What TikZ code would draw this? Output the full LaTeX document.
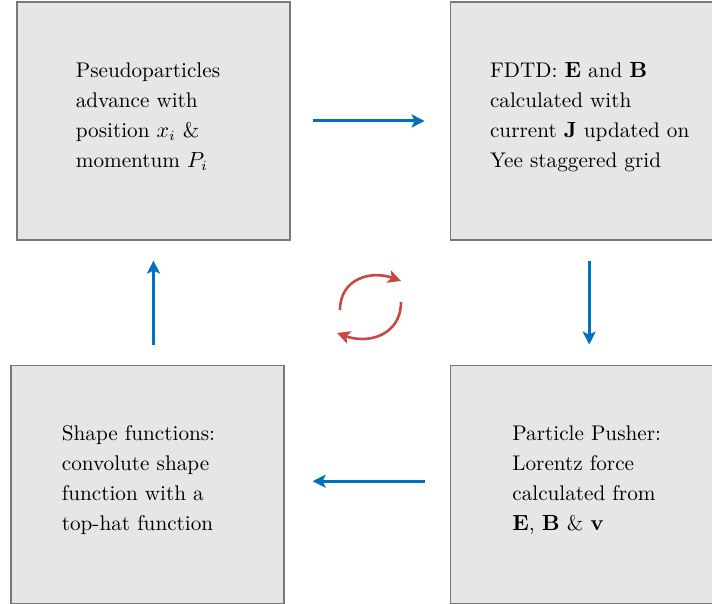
\documentclass[tikz,border=0pt]{standalone}
\usepackage{xcolor}
\usepackage{tikz}
\usetikzlibrary{arrows.meta,positioning,calc}

\definecolor{boxgray}{RGB}{230,230,230}
\definecolor{edgegray}{RGB}{120,120,120}
\definecolor{flowblue}{RGB}{0,114,189}
\definecolor{cycred}{RGB}{200,72,72}

\begin{document}
\begin{tikzpicture}[
    node distance=62pt and 79.5pt,
    blk/.style={draw=edgegray, fill=boxgray, line width=0.6pt, minimum width=136.5pt, minimum height=119pt, inner sep=0pt},
    txt/.style={align=left, font={\fontsize{10.6pt}{15pt}\selectfont}, inner sep=0pt},
    flow/.style={-{Stealth[length=6.5pt, width=6.5pt, inset=1.5pt]}, flowblue, line width=1.5pt},
    cyc/.style={-{Stealth[length=6.5pt, width=6.5pt, inset=1.5pt]}, cycred, line width=1.3pt}
  ]
    \useasboundingbox (0,0) rectangle (356pt,302pt);
    \node[blk] (push) at (76.75pt,241.5pt) {};
    \node[blk, right=of push] (fdtd) {};
    \node[blk, below=of fdtd] (lorentz) {};
    \node[blk, below=of push, xshift=-3pt] (shape) {};

    \node[txt, xshift=-2.75pt, yshift=2pt] (push-t) at (push) {Pseudoparticles\\advance with\\position $x_i$ \&\\momentum $P_i$};
    \node[txt, xshift=1.5pt, yshift=2pt] (fdtd-t) at (fdtd) {FDTD: $\mathbf{E}$ and $\mathbf{B}$\\calculated with\\current $\mathbf{J}$ updated on\\Yee staggered grid};
    \node[txt, yshift=2pt] (lorentz-t) at (lorentz) {Particle Pusher:\\Lorentz force\\calculated from\\$\mathbf{E}$, $\mathbf{B}$ \& $\mathbf{v}$};
    \node[txt, xshift=-4.5pt, yshift=2pt] (shape-t) at (shape) {Shape functions:\\convolute shape\\function with a\\top-hat function};

    \draw[flow, shorten <=11pt, shorten >=12.5pt] (push.east) -- (fdtd.west);
    \draw[flow, shorten <=10pt, shorten >=10pt] ([xshift=1.25pt]fdtd.south) -- ([xshift=1.25pt]lorentz.north);
    \draw[flow, shorten <=12.5pt, shorten >=14pt] ([yshift=1.5pt]lorentz.west |- shape.east) -- ([yshift=1.5pt]shape.east);
    \draw[flow, shorten <=10pt, shorten >=10pt] (push.south |- shape.north) -- (push.south);

    % cycle symbol in the middle
    \coordinate (loop) at (185pt,149.5pt);
    \draw[cyc] ($(loop)+(-15pt,-2.5pt)$) to[out=90, in=160, looseness=1.2] ($(loop)+(15.5pt,12pt)$);
    \draw[cyc] ($(loop)+(15.5pt,1.5pt)$) to[out=-90, in=-20, looseness=1.2] ($(loop)+(-16.5pt,-14pt)$);
  \end{tikzpicture}
\end{document}
